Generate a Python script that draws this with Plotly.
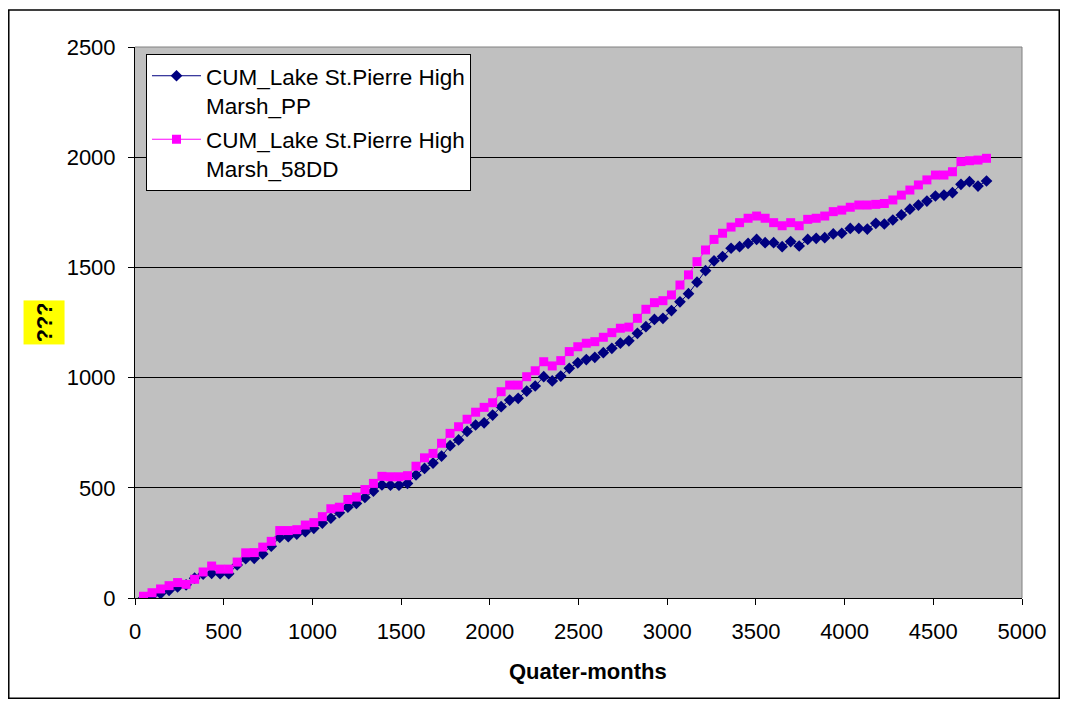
import plotly.graph_objects as go

# quarter-month index (48 quarter-months = 1 year)
x_vals = [48 * i for i in range(1, 101)]

# CUM_Lake St.Pierre High Marsh_PP
pp = [0, 10, 20, 35, 50, 60, 90, 108, 112, 110,
      110, 150, 178, 180, 200, 235, 275, 278, 290, 301,
      316, 340, 362, 387, 412, 429, 456, 485, 513, 512,
      512, 520, 558, 588, 612, 644, 691, 717, 756, 785,
      795, 830, 868, 898, 906, 939, 962, 1004, 985, 1007,
      1042, 1067, 1082, 1092, 1113, 1133, 1156, 1167, 1201, 1231,
      1264, 1269, 1304, 1344, 1381, 1433, 1485, 1530, 1549, 1587,
      1594, 1609, 1627, 1612, 1612, 1594, 1617, 1597, 1627, 1632,
      1635, 1652, 1655, 1677, 1677, 1674, 1700, 1697, 1715, 1738,
      1764, 1783, 1801, 1824, 1828, 1839, 1877, 1889, 1869, 1892]

# CUM_Lake St.Pierre High Marsh_58DD
dd58 = [8, 24, 41, 56, 70, 62, 85, 118, 145, 131,
        131, 163, 205, 206, 231, 257, 306, 306, 310, 331,
        342, 369, 405, 412, 447, 458, 492, 520, 552, 550,
        550, 555, 598, 636, 656, 702, 747, 777, 811, 843,
        865, 886, 936, 966, 966, 1004, 1031, 1072, 1053, 1077,
        1118, 1140, 1156, 1163, 1183, 1204, 1224, 1229, 1269, 1310,
        1340, 1349, 1375, 1420, 1466, 1526, 1579, 1627, 1655, 1683,
        1703, 1723, 1733, 1723, 1703, 1689, 1703, 1689, 1718, 1723,
        1733, 1753, 1760, 1773, 1783, 1783, 1786, 1790, 1806, 1828,
        1851, 1874, 1897, 1919, 1919, 1934, 1980, 1984, 1987, 1995]

font_main = "Liberation Sans, Arial, sans-serif"

fig = go.Figure()

fig.add_trace(go.Scatter(
    x=x_vals, y=pp, mode="lines+markers",
    name="CUM_Lake St.Pierre High<br>Marsh_PP", legendgroup="pp",
    line=dict(color="#000080", width=1),
    marker=dict(symbol="diamond", size=9, color="#000080"),
))
fig.add_trace(go.Scatter(
    x=x_vals, y=dd58, mode="lines+markers",
    name="CUM_Lake St.Pierre High<br>Marsh_58DD", legendgroup="dd",
    line=dict(color="#FF00FF", width=1),
    marker=dict(symbol="square", size=9, color="#FF00FF"),
))

# the page body adds 8px around the figure, so keep it 16px smaller than the window
# (wider right margin keeps the "5000" label inside the page)
fig.update_layout(
    width=1052, height=691,
    margin=dict(l=127, r=38, t=39, b=101),
    paper_bgcolor="white",
    plot_bgcolor="#C0C0C0",
    font=dict(family=font_main, size=22, color="black"),
    showlegend=True,
    legend=dict(
        x=0.0124, y=0.988, xanchor="left", yanchor="top",
        bgcolor="white", bordercolor="black", borderwidth=1,
        font=dict(size=22.5), valign="top", itemwidth=49,
        tracegroupgap=2,
    ),
)

fig.update_xaxes(
    range=[0, 5000], tickmode="linear", tick0=0, dtick=500,
    showgrid=False, zeroline=False,
    showline=True, linecolor="black", linewidth=1,
    ticks="outside", ticklen=6, tickcolor="black",
    ticklabelstandoff=8,
)
fig.update_yaxes(
    range=[0, 2500], tickmode="linear", tick0=0, dtick=500,
    showgrid=True, gridcolor="black", gridwidth=1, zeroline=False,
    showline=True, linecolor="black", linewidth=1,
    ticks="outside", ticklen=6, tickcolor="black",
    ticklabelstandoff=8,
)

# grey plot area border on top and right
fig.add_shape(type="line", xref="paper", yref="paper", x0=0, x1=1, y0=1, y1=1,
              line=dict(color="#808080", width=1))
fig.add_shape(type="line", xref="paper", yref="paper", x0=1, x1=1, y0=0, y1=1,
              line=dict(color="#808080", width=1))

# outer chart border
fig.add_shape(type="rect", xref="paper", yref="paper",
              x0=-0.1423, x1=1.0420, y0=-0.1819, y1=1.0672,
              line=dict(color="black", width=1.5))

# axis titles
fig.add_annotation(text="<b>Quater-months</b>", xref="paper", yref="paper",
                   x=0.511, y=-0.1325, xanchor="center", yanchor="middle",
                   showarrow=False, font=dict(size=22))
fig.add_annotation(text="<b>???</b>", xref="paper", yref="paper",
                   x=-0.1026, y=0.501, xanchor="center", yanchor="middle",
                   showarrow=False, textangle=-90, width=37, height=34,
                   bgcolor="#FFFF00", borderpad=3, font=dict(size=22))

fig.write_html("out.html", config={"displayModeBar": False})
